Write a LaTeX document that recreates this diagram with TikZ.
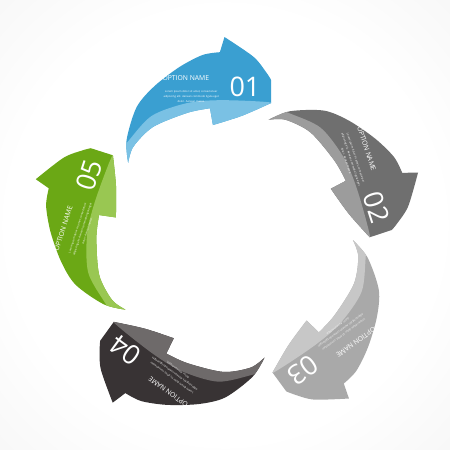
\documentclass[tikz,border=0pt]{standalone}
\usepackage{fontspec}
\setmainfont{Open Sans}
\usetikzlibrary{calc}

\definecolor{blueA}{HTML}{3A9FD1}
\definecolor{blueB}{HTML}{7AC1E4}
\definecolor{greyA}{HTML}{6F6F6F}
\definecolor{greyB}{HTML}{9C9C9C}
\definecolor{silverA}{HTML}{A9A9A9}
\definecolor{silverB}{HTML}{C7C7C7}
\definecolor{darkA}{HTML}{383334}
\definecolor{darkB}{HTML}{6E6A6A}
\definecolor{greenA}{HTML}{6BA815}
\definecolor{greenB}{HTML}{99C752}

\tikzstyle{title}=[text=white,font=\fontsize{5.8}{6}\selectfont,inner sep=0pt]
\tikzstyle{number}=[text=white,font=\fontsize{23}{23}\selectfont,inner sep=0pt]
\tikzstyle{blurb}=[text=white,font=\fontsize{2.3}{4.3}\selectfont,align=center,inner sep=0pt]

\pgfdeclareradialshading{backdrop}{\pgfpoint{0bp}{0bp}}{color(0bp)=(white); color(24bp)=(white); color(72bp)=(black!12)}

% one arrow, drawn for the top position (polar, around the centre)
\newcommand\arrowshape{plot[smooth] coordinates {(143:125) (136:141) (125:159.5) (116:168.6) (106:177.6) (98:184.7) (92.5:186)}
  -- (91:201) -- plot[smooth] coordinates {(91:201) (82:183) (77:170) (74.8:164)}
  -- (72.3:141.7) -- plot[smooth] coordinates {(72.3:141.7) (83.5:123) (97.6:114)}
  -- (97.9:131) -- plot[smooth] coordinates {(97.9:131) (108:131.6) (124:134) (136:131.5) (143:125)} -- cycle}
\newcommand\bandshape{plot[smooth] coordinates {(147:139) (136:139) (122:144) (107:141) (93:138) (72.8:142) (66:142)}
  -- (66:60) -- (147:60) -- cycle}

\begin{document}
\begin{tikzpicture}[x=0.03cm,y=0.03cm]
\useasboundingbox (0,0) rectangle (450,450);
\shade[shading=backdrop] (0,0) rectangle (450,450);
\coordinate (centre) at (228,212);

\foreach \i/\dark/\light in {1/blueA/blueB,2/greyA/greyB,3/silverA/silverB,4/darkA/darkB,5/greenA/greenB}{
  \pgfmathsetmacro\turn{-72*(\i-1)}
  \begin{scope}[shift={(centre)},rotate=\turn,transform shape]
    \fill[\dark] \arrowshape;
    \begin{scope}
      \clip \arrowshape;
      \fill[\light] \bandshape;
    \end{scope}
    \node[title] (title\i) at (104.8:165) {OPTION NAME};
    \node[number] (num\i) at (83.6:152) {0\i};
    \node[blurb] (blurb\i) at (104.6:146) {Lorem ipsum dolor sit amet, consectetuer\\adipiscing elit. Aenean commodo ligula eget\\dolor. Aenean massa.};
  \end{scope}
}
\end{tikzpicture}
\end{document}
